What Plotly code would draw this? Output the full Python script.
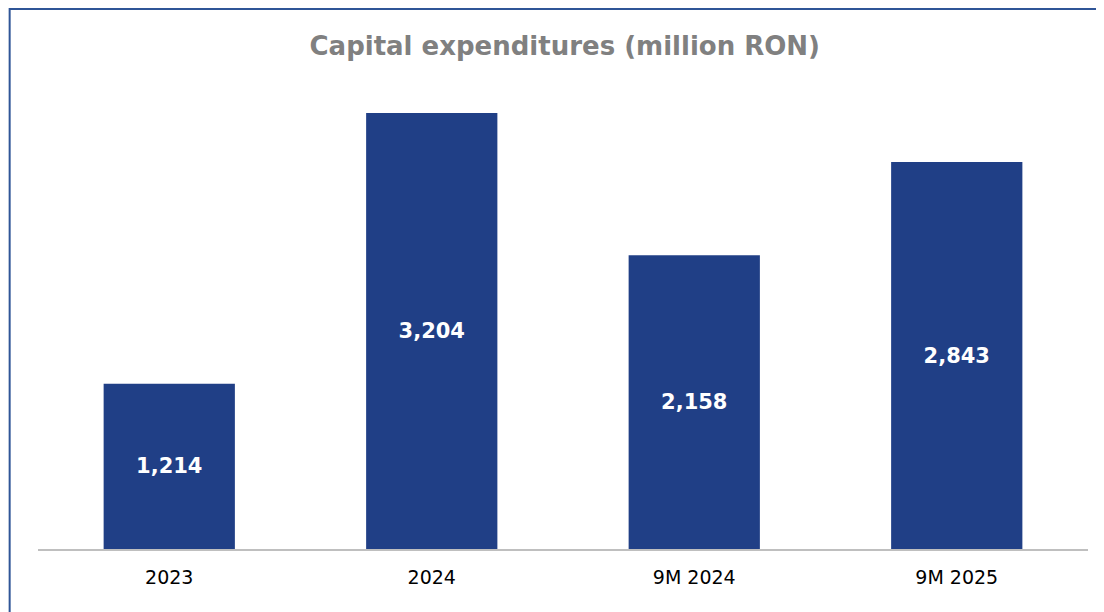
import plotly.graph_objects as go

categories = ["2023", "2024", "9M 2024", "9M 2025"]
capex = [1214, 3204, 2158, 2843]
labels = [f"{v:,}" for v in capex]

BAR_COLOR = "#203F86"
BORDER_COLOR = "#2F5597"

fig = go.Figure(
    go.Bar(
        x=categories,
        y=capex,
        text=labels,
        textposition="inside",
        insidetextanchor="middle",
        textfont=dict(family="DejaVu Sans", size=21, color="white", weight="bold"),
        marker=dict(color=BAR_COLOR, line=dict(width=0)),
        hoverinfo="skip",
    )
)

# the page puts the figure 8px in from the top-left corner
fig.update_layout(
    width=1096,
    height=604,
    margin=dict(l=30, r=16, t=51, b=63),
    paper_bgcolor="white",
    plot_bgcolor="white",
    bargap=0.5,
    showlegend=False,
    title=dict(
        text="<b>Capital expenditures (million RON)</b>",
        x=0.508, xanchor="center",
        y=0.938, yanchor="middle",
        font=dict(family="DejaVu Sans", size=26, color="#808080"),
    ),
    uniformtext=dict(mode="show", minsize=10),
)

fig.update_xaxes(
    showline=True, linecolor="#BFBFBF", linewidth=1.5,
    ticks="", showgrid=False, ticklabelstandoff=10,
    tickfont=dict(family="DejaVu Sans", size=19, color="black"),
)
fig.update_yaxes(range=[0, 3600], visible=False, showgrid=False)

# outer frame (right and bottom edges sit just outside the canvas)
fig.add_shape(
    type="rect", xref="paper", yref="paper",
    x0=-0.027, x1=1.03, y0=-0.2, y1=1.102,
    line=dict(color=BORDER_COLOR, width=2),
    fillcolor="rgba(0,0,0,0)", layer="above",
)

fig.write_html("out.html")
